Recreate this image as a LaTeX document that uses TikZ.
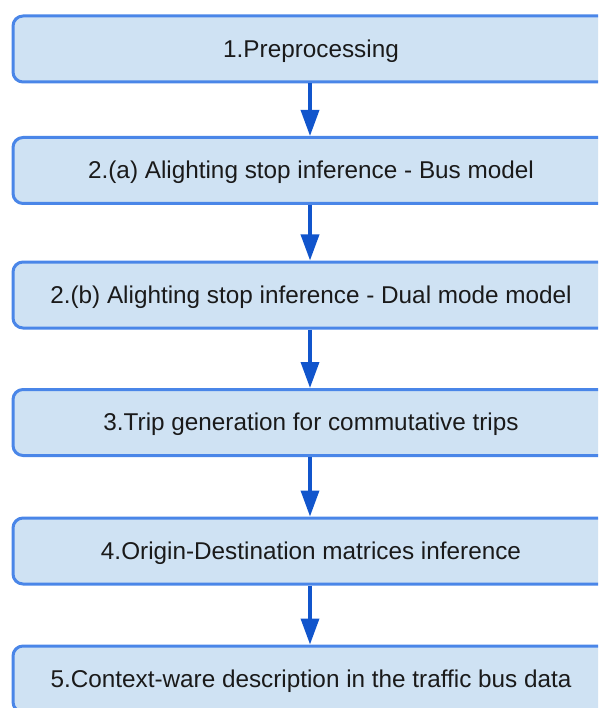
\documentclass[tikz,border=0pt]{standalone}
\usepackage{fontspec}
\setmainfont{Liberation Sans}
\usetikzlibrary{arrows.meta}
\definecolor{boxfill}{HTML}{CFE2F3}
\definecolor{boxline}{HTML}{4A86E8}
\definecolor{arrowblue}{HTML}{1155CC}
\definecolor{textgray}{HTML}{1A1A1A}
\tikzset{
  stage/.style={draw=boxline, fill=boxfill, line width=3pt, rounded corners=10pt,
    minimum width=596pt, minimum height=66pt, inner sep=0pt,
    text height=17.5pt, text depth=0.9pt,
    text=textgray, font=\fontsize{24.3}{28}\selectfont},
  flow/.style={draw=arrowblue, line width=3.5pt,
    -{Triangle[width=18pt,length=26pt]}}
}
\begin{document}
\begin{tikzpicture}[x=1pt,y=1pt]
  \useasboundingbox (0,0) rectangle (598,-708);
  \clip (0,0) rectangle (598,-708);
  \node[stage] (s1) at (311,-49)    {1.Preprocessing};
  \node[stage] (s2) at (311,-170.5) {2.(a) Alighting stop inference - Bus model};
  \node[stage] (s3) at (311,-295)   {2.(b) Alighting stop inference - Dual mode model};
  \node[stage] (s4) at (311,-422.5) {3.Trip generation for commutative trips};
  \node[stage] (s5) at (311,-551)   {4.Origin-Destination matrices inference};
  \node[stage] (s6) at (311,-679)   {5.Context-ware description in the traffic bus data};
  \draw[flow] (s1.south -| 310,0) -- (s2.north -| 310,0);
  \draw[flow] (s2.south -| 310,0) -- (s3.north -| 310,0);
  \draw[flow] (s3.south -| 310,0) -- (s4.north -| 310,0);
  \draw[flow] (s4.south -| 310,0) -- (s5.north -| 310,0);
  \draw[flow] (s5.south -| 310,0) -- (s6.north -| 310,0);
\end{tikzpicture}
\end{document}
